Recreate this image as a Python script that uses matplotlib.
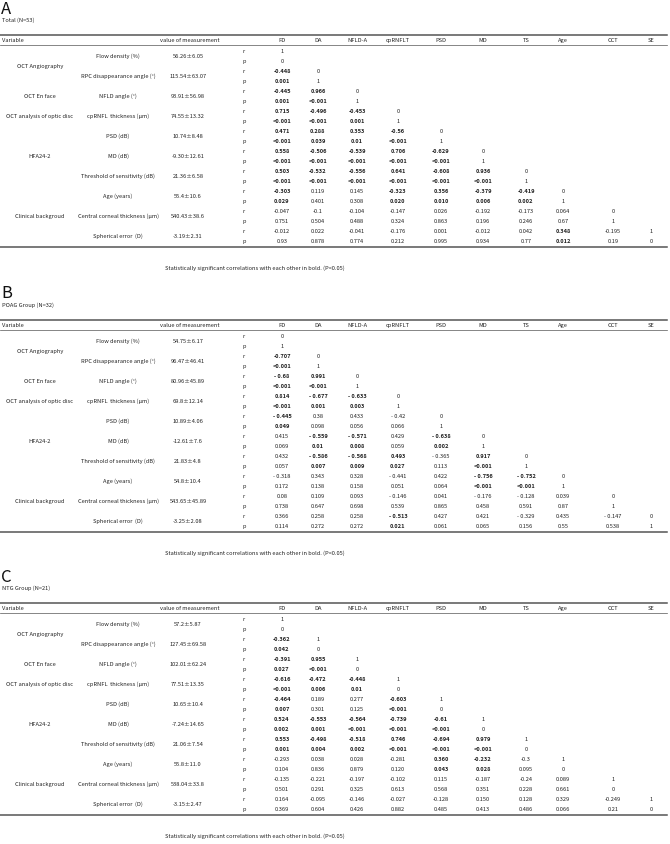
import matplotlib
matplotlib.use("Agg")
import matplotlib.pyplot as plt

# font for the whole table
plt.rcParams['font.family'] = ['Noto Sans CJK JP', 'DejaVu Sans']

# ---- data ----
col_names = ["FD", "DA", "NFLD-A", "cpRNFLT", "PSD", "MD", "TS", "Age", "CCT", "SE"]
measures = ["Flow density (%)", "RPC disappearance angle (°)", "NFLD angle (°)",
            "cpRNFL  thickness (μm)", "PSD (dB)", "MD (dB)",
            "Threshold of sensitivity (dB)", "Age (years)",
            "Central corneal thickness (μm)", "Spherical error  (D)"]
# category name, first measure index, last measure index
categories = [("OCT Angiography", 0, 1), ("OCT En face", 2, 2),
              ("OCT analysis of optic disc", 3, 3), ("HFA24-2", 4, 6),
              ("Clinical backgroud", 7, 9)]

letters = ["A", "B", "C"]
subtitles = ["Total (N=53)", "POAG Group (N=32)", "NTG Group (N=21)"]

values_total = ["56.26±6.05", "115.54±63.07", "93.91±56.98", "74.55±13.32", "10.74±8.48",
                "-9.30±12.61", "21.36±6.58", "55.4±10.6", "540.43±38.6", "-3.19±2.31"]
values_poag = ["54.75±6.17", "96.47±46.41", "80.96±45.89", "69.8±12.14", "10.89±4.06",
               "-12.61±7.6", "21.83±4.8", "54.8±10.4", "543.65±45.89", "-3.25±2.08"]
values_ntg = ["57.2±5.87", "127.45±69.58", "102.01±62.24", "77.51±13.35", "10.65±10.4",
              "-7.24±14.65", "21.06±7.54", "55.8±11.0", "538.04±33.8", "-3.15±2.47"]

r_total = [["1"],
           ["-0.448", "0"],
           ["-0.445", "0.966", "0"],
           ["0.715", "-0.496", "-0.453", "0"],
           ["0.471", "0.288", "0.353", "-0.56", "0"],
           ["0.558", "-0.506", "-0.539", "0.706", "-0.629", "0"],
           ["0.503", "-0.532", "-0.556", "0.641", "-0.608", "0.936", "0"],
           ["-0.303", "0.119", "0.145", "-0.323", "0.356", "-0.379", "-0.419", "0"],
           ["-0.047", "-0.1", "-0.104", "-0.147", "0.026", "-0.192", "-0.173", "0.064", "0"],
           ["-0.012", "0.022", "-0.041", "-0.176", "0.001", "-0.012", "0.042", "0.348", "-0.195", "1"]]
p_total = [["0"],
           ["0.001", "1"],
           ["0.001", "<0.001", "1"],
           ["<0.001", "<0.001", "0.001", "1"],
           ["<0.001", "0.039", "0.01", "<0.001", "1"],
           ["<0.001", "<0.001", "<0.001", "<0.001", "<0.001", "1"],
           ["<0.001", "<0.001", "<0.001", "<0.001", "<0.001", "<0.001", "1"],
           ["0.029", "0.401", "0.308", "0.020", "0.010", "0.006", "0.002", "1"],
           ["0.751", "0.504", "0.488", "0.324", "0.863", "0.196", "0.246", "0.67", "1"],
           ["0.93", "0.878", "0.774", "0.212", "0.995", "0.934", "0.77", "0.012", "0.19", "0"]]

r_poag = [["0"],
          ["-0.707", "0"],
          ["- 0.68", "0.991", "0"],
          ["0.814", "- 0.677", "- 0.633", "0"],
          ["- 0.445", "0.38", "0.433", "- 0.42", "0"],
          ["0.415", "- 0.559", "- 0.571", "0.429", "- 0.638", "0"],
          ["0.432", "- 0.586", "- 0.568", "0.493", "- 0.365", "0.917", "0"],
          ["- 0.318", "0.343", "0.328", "- 0.441", "0.422", "- 0.756", "- 0.752", "0"],
          ["0.08", "0.109", "0.093", "- 0.146", "0.041", "- 0.176", "- 0.128", "0.039", "0"],
          ["0.366", "0.258", "0.258", "- 0.513", "0.427", "0.421", "- 0.329", "0.435", "- 0.147", "0"]]
p_poag = [["1"],
          ["<0.001", "1"],
          ["<0.001", "<0.001", "1"],
          ["<0.001", "0.001", "0.003", "1"],
          ["0.049", "0.098", "0.056", "0.066", "1"],
          ["0.069", "0.01", "0.008", "0.059", "0.002", "1"],
          ["0.057", "0.007", "0.009", "0.027", "0.113", "<0.001", "1"],
          ["0.172", "0.138", "0.158", "0.051", "0.064", "<0.001", "<0.001", "1"],
          ["0.738", "0.647", "0.698", "0.539", "0.865", "0.458", "0.591", "0.87", "1"],
          ["0.114", "0.272", "0.272", "0.021", "0.061", "0.065", "0.156", "0.55", "0.538", "1"]]

r_ntg = [["1"],
         ["-0.362", "1"],
         ["-0.391", "0.955", "1"],
         ["-0.616", "-0.472", "-0.448", "1"],
         ["-0.464", "0.189", "0.277", "-0.603", "1"],
         ["0.524", "-0.553", "-0.564", "-0.739", "-0.61", "1"],
         ["0.553", "-0.498", "-0.518", "0.746", "-0.694", "0.979", "1"],
         ["-0.293", "0.038", "0.028", "-0.281", "0.360", "-0.232", "-0.3", "1"],
         ["-0.135", "-0.221", "-0.197", "-0.102", "0.115", "-0.187", "-0.24", "0.089", "1"],
         ["0.164", "-0.095", "-0.146", "-0.027", "-0.128", "0.150", "0.128", "0.329", "-0.249", "1"]]
p_ntg = [["0"],
         ["0.042", "0"],
         ["0.027", "<0.001", "0"],
         ["<0.001", "0.006", "0.01", "0"],
         ["0.007", "0.301", "0.125", "<0.001", "0"],
         ["0.002", "0.001", "<0.001", "<0.001", "<0.001", "0"],
         ["0.001", "0.004", "0.002", "<0.001", "<0.001", "<0.001", "0"],
         ["0.104", "0.836", "0.879", "0.120", "0.043", "0.028", "0.095", "0"],
         ["0.501", "0.291", "0.325", "0.613", "0.568", "0.351", "0.228", "0.661", "0"],
         ["0.369", "0.604", "0.426", "0.882", "0.485", "0.413", "0.486", "0.066", "0.21", "0"]]

footnote = "Statistically significant correlations with each other in bold. (P<0.05)"

panels = [(values_total, r_total, p_total),
          (values_poag, r_poag, p_poag),
          (values_ntg, r_ntg, p_ntg)]

# ---- layout (pixels) ----
W, H = 670, 844
panel_top = [0, 285, 568]
x_cat, x_meas, x_val, x_rp = 40, 118, 188, 244
x_cols = [282, 318, 357, 398, 441, 483, 526, 563, 613, 651]
row_h = 10.0
fs = 4.1
txt_col = "#222222"
line_col = "#555555"
VA = "center_baseline"


def is_sig(p):
    p = p.strip()
    if p.startswith("<"):
        return True
    return float(p) < 0.05


fig = plt.figure(figsize=(W / 100, H / 100), dpi=100)
ax = fig.add_axes([0, 0, 1, 1])
ax.set_xlim(0, W)
ax.set_ylim(H, 0)
ax.axis("off")

for k, (vals, rr, pp) in enumerate(panels):
    T = panel_top[k]
    ax.text(1, T + 0.5, letters[k], fontsize=12, va="top", ha="left", color="#111111")
    ax.text(2, T + 20, subtitles[k], fontsize=fs, va=VA, ha="left", color=txt_col)

    y_rule = T + 35
    y_head = T + 40
    y_under = T + 45
    y0 = T + 51
    y_bot = y0 + 19 * row_h + 6
    ax.plot([0, 667], [y_rule, y_rule], color=line_col, lw=1.1)
    ax.plot([0, 667], [y_under, y_under], color=line_col, lw=0.5)
    ax.plot([0, 667], [y_bot, y_bot], color=line_col, lw=1.1)

    ax.text(2, y_head, "Variable", fontsize=fs, va=VA, ha="left", color=txt_col)
    ax.text(190, y_head, "value of measurement", fontsize=fs, va=VA, ha="center", color=txt_col)
    for c, name in enumerate(col_names):
        ax.text(x_cols[c], y_head, name, fontsize=fs, va=VA, ha="center", color=txt_col)

    for name, i0, i1 in categories:
        yc = y0 + (2 * i0 + 2 * i1 + 1) / 2 * row_h
        ax.text(x_cat, yc, name, fontsize=fs, va=VA, ha="center", color=txt_col)

    for i in range(len(measures)):
        yr = y0 + 2 * i * row_h
        yp = yr + row_h
        ym = yr + row_h / 2
        ax.text(x_meas, ym, measures[i], fontsize=fs, va=VA, ha="center", color=txt_col)
        ax.text(x_val, ym, vals[i], fontsize=fs, va=VA, ha="center", color=txt_col)
        ax.text(x_rp, yr, "r", fontsize=fs, va=VA, ha="center", color=txt_col)
        ax.text(x_rp, yp, "p", fontsize=fs, va=VA, ha="center", color=txt_col)
        for j in range(i + 1):
            bold = (j != i) and is_sig(pp[i][j])
            w = "bold" if bold else "normal"
            ax.text(x_cols[j], yr, rr[i][j], fontsize=fs, va=VA, ha="center",
                    color=txt_col, fontweight=w)
            ax.text(x_cols[j], yp, pp[i][j], fontsize=fs, va=VA, ha="center",
                    color=txt_col, fontweight=w)

    ax.text(165, y_bot + 21, footnote, fontsize=fs, va=VA, ha="left", color=txt_col)

fig.savefig("out.png", dpi=100)
